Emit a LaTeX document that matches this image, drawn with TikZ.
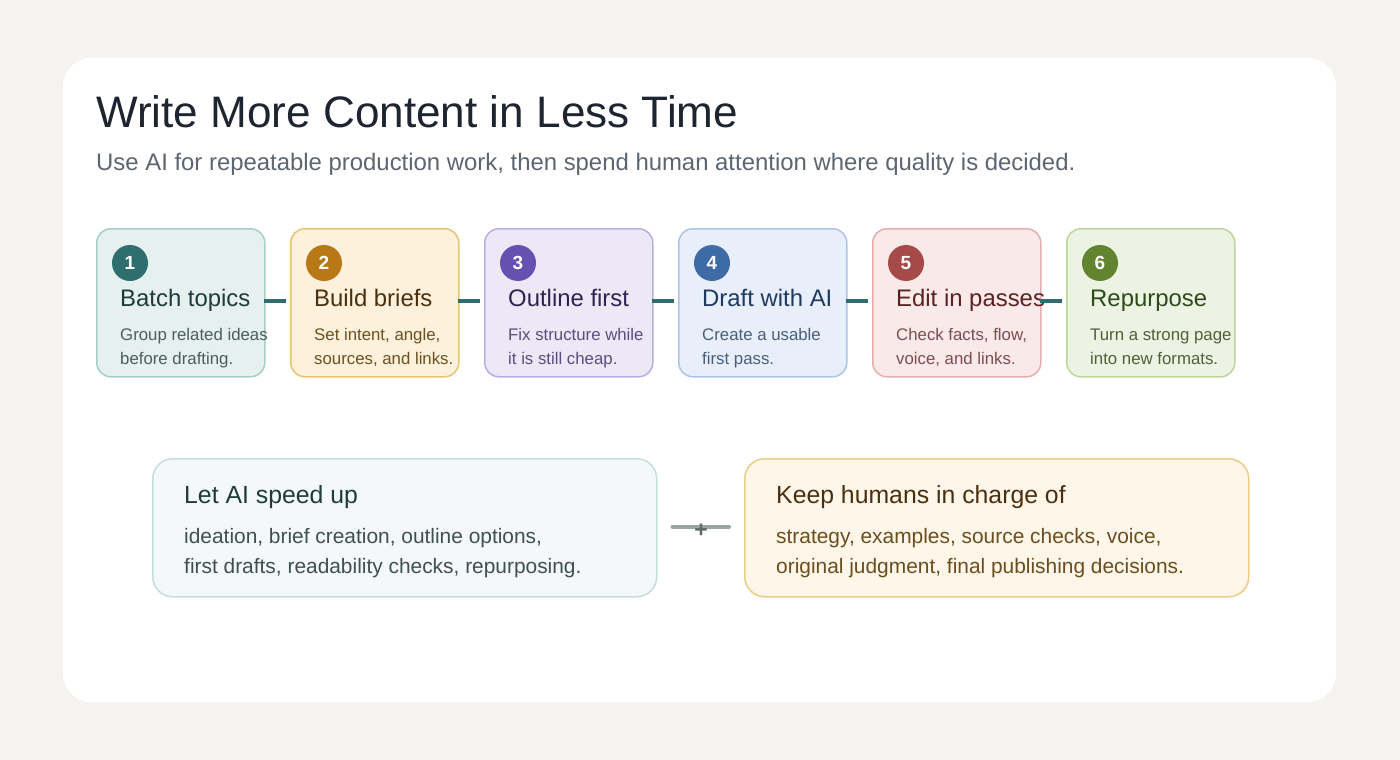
\documentclass[tikz,border=0pt]{standalone}
\usepackage{fontspec}
\setmainfont{Liberation Sans}
\usetikzlibrary{calc}
\definecolor{bgpage}{HTML}{F4F3EF}
\definecolor{titlecol}{HTML}{1E2530}
\definecolor{subcol}{HTML}{5D6670}
% step colours
\definecolor{fA}{HTML}{E6F0EE}\definecolor{bA}{HTML}{A7CFC8}\definecolor{cA}{HTML}{2F6E6E}\definecolor{tA}{HTML}{1F3B3B}\definecolor{xA}{HTML}{4A5E5E}
\definecolor{fB}{HTML}{FDF1DB}\definecolor{bB}{HTML}{E6C56E}\definecolor{cB}{HTML}{B87816}\definecolor{tB}{HTML}{4A3010}\definecolor{xB}{HTML}{6B5020}
\definecolor{fC}{HTML}{ECE8F6}\definecolor{bC}{HTML}{B9AEE0}\definecolor{cC}{HTML}{6651B0}\definecolor{tC}{HTML}{2E2450}\definecolor{xC}{HTML}{5A4E80}
\definecolor{fD}{HTML}{E8EFFA}\definecolor{bD}{HTML}{AEC3E8}\definecolor{cD}{HTML}{3E6BA6}\definecolor{tD}{HTML}{1F3A60}\definecolor{xD}{HTML}{4A5E7A}
\definecolor{fE}{HTML}{F9E9E8}\definecolor{bE}{HTML}{E4AFAE}\definecolor{cE}{HTML}{A54A48}\definecolor{tE}{HTML}{5A2222}\definecolor{xE}{HTML}{7A4E4E}
\definecolor{fF}{HTML}{EDF3E3}\definecolor{bF}{HTML}{BCD59A}\definecolor{cF}{HTML}{62832F}\definecolor{tF}{HTML}{2F4A1A}\definecolor{xF}{HTML}{4E6038}
\definecolor{linkcol}{HTML}{2F6E6E}
\definecolor{lfill}{HTML}{F4F8F8}\definecolor{lborder}{HTML}{C5DEDB}\definecolor{ltitle}{HTML}{1F3B3B}\definecolor{lbody}{HTML}{3F5050}
\definecolor{rfill}{HTML}{FEF6E8}\definecolor{rborder}{HTML}{E8CE86}\definecolor{rtitle}{HTML}{4A3010}\definecolor{rbody}{HTML}{6B4E20}
\definecolor{midline}{HTML}{9AA6A6}\definecolor{pluscol}{HTML}{5F6B6B}
\tikzset{
  stepbox/.style={draw=#1, line width=1.5pt, rounded corners=14pt, minimum width=168pt, minimum height=148pt, anchor=north west, inner sep=0pt},
  numdot/.style={circle, fill=#1, minimum size=36pt, inner sep=0pt, text=white, font=\fontsize{19}{19}\selectfont\bfseries},
  steptitle/.style={anchor=base west, inner sep=0pt, text=#1, font=\fontsize{23.9}{28}\selectfont},
  steptext/.style={anchor=base west, inner sep=0pt, text=#1, font=\fontsize{16.8}{24}\selectfont, align=left},
  linkline/.style={draw=linkcol, line width=4pt},
  bigbox/.style={line width=1.5pt, rounded corners=20pt, minimum width=504pt, minimum height=138pt, anchor=north west, inner sep=0pt},
  bigtitle/.style={anchor=base west, inner sep=0pt, text=#1, font=\fontsize{24.8}{28}\selectfont},
  bigtext/.style={anchor=base west, inner sep=0pt, text=#1, font=\fontsize{20.9}{30}\selectfont, align=left},
}
\begin{document}
\begin{tikzpicture}[x=1pt,y=-1pt]
\useasboundingbox (0,0) rectangle (1400,760);
\fill[bgpage] (0,0) rectangle (1400,760);
\fill[white, rounded corners=28pt] (63,58) rectangle (1336,702);
\node[anchor=base west, inner sep=0pt, text=titlecol, font=\fontsize{44.1}{50}\selectfont] (title) at (96,127) {Write More Content in Less Time};
\node[anchor=base west, inner sep=0pt, text=subcol, font=\fontsize{23.9}{28}\selectfont] (subtitle) at (96,170) {Use AI for repeatable production work, then spend human attention where quality is decided.};
% steps
\foreach \i/\L/\x/\ttl/\lineA/\lineB in {
  1/A/96/Batch topics/Group related ideas/before drafting.,
  2/B/290/Build briefs/{Set intent, angle,}/{sources, and links.},
  3/C/484/Outline first/Fix structure while/it is still cheap.,
  4/D/678/Draft with AI/Create a usable/first pass.,
  5/E/872/Edit in passes/{Check facts, flow,}/{voice, and links.},
  6/F/1066/Repurpose/Turn a strong page/into new formats.}{
  \node[stepbox=b\L, fill=f\L] (box\i) at (\x,228) {};
  \node[numdot=c\L] (num\i) at (\x+34,263) {\i};
  \node[steptitle=t\L] (st\i) at (\x+24,306) {\ttl};
  \node[steptext=x\L] (sa\i) at (\x+24,340) {\lineA};
  \node[steptext=x\L] (sb\i) at (\x+24,364) {\lineB};
}
% connectors
\foreach \i/\j in {1/2,2/3,3/4,4/5,5/6}{
  \coordinate (ls\i) at ($(box\i.north east)+(-2,73)$);
  \coordinate (le\i) at ($(box\j.north west)+(-4,73)$);
  \draw[linkline] (ls\i) -- (le\i);
}
% bottom boxes
\node[bigbox, draw=lborder, fill=lfill] (left) at (152,458) {};
\node[bigtitle=ltitle] (lt) at (184,503) {Let AI speed up};
\node[bigtext=lbody] (lb1) at (184,543) {ideation, brief creation, outline options,};
\node[bigtext=lbody] (lb2) at (184,573) {first drafts, readability checks, repurposing.};
\node[bigbox, draw=rborder, fill=rfill] (right) at (744,458) {};
\node[bigtitle=rtitle] (rt) at (776,503) {Keep humans in charge of};
\node[bigtext=rbody] (rb1) at (776,543) {strategy, examples, source checks, voice,};
\node[bigtext=rbody] (rb2) at (776,573) {original judgment, final publishing decisions.};
\coordinate (ms) at ($(left.east)+(15,-1)$);
\coordinate (me) at ($(right.west)+(-15,-1)$);
\draw[draw=midline, line width=4pt, line cap=round] (ms) -- (me);
\node[text=pluscol, anchor=base, inner sep=0pt, font=\fontsize{23}{23}\selectfont\bfseries] (plus) at (701,537) {+};
\end{tikzpicture}
\end{document}
